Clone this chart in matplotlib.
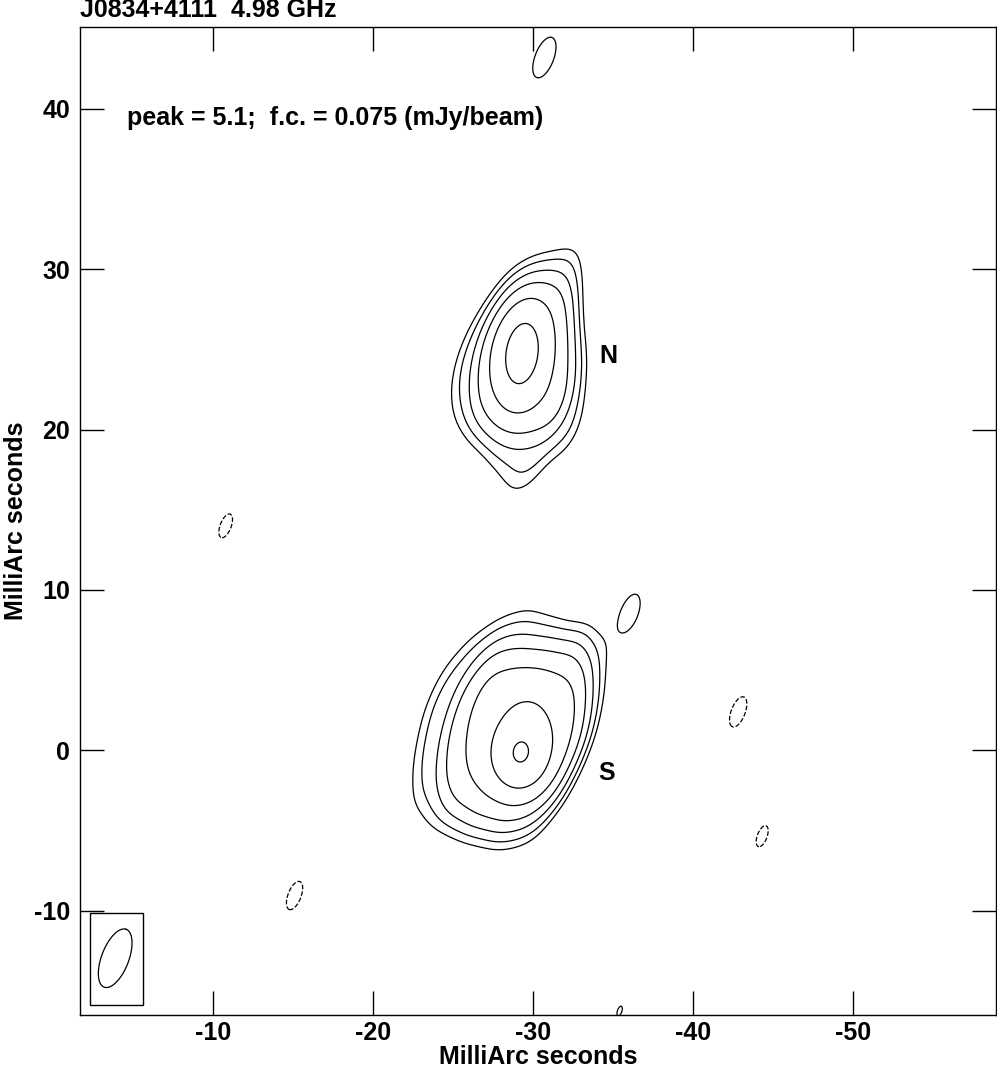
import numpy as np
import matplotlib
matplotlib.use("Agg")
import matplotlib.pyplot as plt
import matplotlib.patches as patches
from matplotlib.path import Path

plt.rcParams['font.family'] = ['Liberation Sans', 'DejaVu Sans']
plt.rcParams['font.weight'] = 'bold'
plt.rcParams['axes.unicode_minus'] = False

fc = 0.075
level_mult = [-1, 1, 2, 4, 8, 16, 32, 64]

# extended emission regions (mas): outer ~1 x f.c., inner ~8 x f.c., S mid ~16 x f.c.
n_outer_x = [-32.45, -32.76, -32.76, -32.66, -32.66, -32.87, -33.07, -33.07, -32.93, -32.76, -32.14, -31.31, -30.69, -30.27,
             -29.65, -28.92, -28.50, -27.78, -26.95, -26.12, -25.39, -25.08, -25.04, -25.39, -25.91, -26.53, -27.36, -28.61,
             -29.85, -31.10, -31.72]
n_outer_y = [31.0, 30.53, 29.38, 27.31, 25.85, 25.23, 24.40, 22.74, 21.08, 19.83, 19.0, 18.58, 18.17, 17.34,
             16.71, 16.40, 16.92, 17.96, 19.21, 19.83, 20.66, 21.70, 23.15, 24.61, 25.85, 26.89, 27.93, 29.38,
             30.21, 30.63, 30.84]
n_inner_x = [-30.69, -31.62, -31.97, -32.10, -32.18, -32.10, -31.83, -31.21, -30.27, -29.23, -28.19, -27.26, -26.70,
             -26.59, -26.84, -27.47, -28.40, -29.54]
n_inner_y = [28.97, 28.76, 27.93, 26.27, 24.40, 22.53, 21.08, 20.35, 20.08, 19.93, 20.14, 20.76, 21.80,
             23.36, 25.02, 26.58, 27.83, 28.66]
s_outer_x = [-29.53, -32.0, -33.5, -34.2, -34.28, -33.7, -32.45, -31.6, -30.15, -28.3, -25.6, -23.7, -22.6, -22.7,
             -23.3, -24.35, -26.0, -27.9]
s_outer_y = [8.41, 7.48, 7.37, 6.23, 3.74, 1.25, -1.25, -3.1, -5.2, -5.6, -5.0, -4.3, -2.9, -0.4,
             2.5, 4.78, 6.65, 7.9]
s_inner_x = [-28.5, -31.0, -32.6, -33.1, -33.2, -32.9, -32.0, -31.0, -29.6, -28.2, -26.5, -25.0, -24.5, -24.7,
             -25.3, -26.3, -27.4]
s_inner_y = [6.2, 6.0, 5.8, 4.8, 3.0, 0.8, -1.2, -2.8, -4.0, -4.3, -3.9, -3.0, -1.5, 0.8,
             3.0, 4.8, 5.8]
s_mid_x = [-27.2, -30.9, -32.4, -32.75, -32.65, -32.0, -31.2, -30.35, -28.8, -27.2, -26.2, -25.8, -26.1, -26.9]
s_mid_y = [4.9, 4.8, 4.5, 3.7, 2.3, 0.6, -1.0, -2.5, -3.3, -2.8, -1.8, -0.3, 2.2, 4.2]
region_level = [0.2, 0.8, 0.2, 0.8, 0.4]

# compact components: x, y (mas), peak (mJy/beam), FWHM maj/min (mas), tilt (deg)
comp_x   = [-29.3, -29.15, -29.7, -30.7, -36.0, -10.8, -42.8, -44.3, -15.1, -35.4]
comp_y   = [24.75, -0.35,  1.6,   43.2,   8.55, 14.0,   2.4,  -5.35, -9.05, -16.25]
comp_amp = [2.3,   3.0,    1.2,   0.104,  0.10, -0.084, -0.090, -0.082, -0.088, 0.0765]
comp_maj = [4.5,   3.2,    4.4,   3.9,    3.9,   3.9,   3.9,   3.9,   3.9,   3.9]
comp_min = [2.35,  2.6,    3.4,   1.7,    1.7,   1.7,   1.7,   1.7,   1.7,   1.7]
comp_pa  = [8.0,   5.0,    0.0,   21.0,   21.0,  21.0,  21.0,  21.0,  21.0,  21.0]

beam_x, beam_y = -3.9, -12.96
beam_maj, beam_min, beam_pa = 3.86, 1.7, 21.0

xticks = [-10, -20, -30, -40, -50]
yticks = [-10, 0, 10, 20, 30, 40]


def gauss(u, v, fmaj, fmin, pa):
    p = np.radians(pa)
    a = -u*np.sin(p) + v*np.cos(p)
    b = u*np.cos(p) + v*np.sin(p)
    sa = fmaj/2.3548
    sb = fmin/2.3548
    return np.exp(-0.5*(a**2/sa**2 + b**2/sb**2))


def conv_same(img, ker):
    s0 = img.shape[0] + ker.shape[0] - 1
    s1 = img.shape[1] + ker.shape[1] - 1
    full = np.fft.irfft2(np.fft.rfft2(img, (s0, s1))*np.fft.rfft2(ker, (s0, s1)), (s0, s1))
    c0 = ker.shape[0]//2
    c1 = ker.shape[1]//2
    return full[c0:c0+img.shape[0], c1:c1+img.shape[1]]


step = 0.1
gx = np.arange(-1.7, -58.95, -step)
gy = np.arange(-16.5, 45.15, step)
X, Y = np.meshgrid(gx, gy)
pts = np.column_stack([X.ravel(), Y.ravel()])

# smoothed extended emission
ext = np.zeros_like(X)
regions = [(n_outer_x, n_outer_y), (n_inner_x, n_inner_y), (s_outer_x, s_outer_y), (s_inner_x, s_inner_y),
           (s_mid_x, s_mid_y)]
for (rx, ry), lev in zip(regions, region_level):
    mask = Path(np.column_stack([rx, ry])).contains_points(pts).reshape(X.shape)
    ext += lev*mask
off = np.arange(-50, 51)
kv, ku = np.meshgrid(off*step, -off*step, indexing='ij')
ker = gauss(ku, kv, 2.6, 1.1, 21.0)
ker /= ker.sum()
Z = conv_same(ext, ker)

for x0, y0, a0, fmaj, fmin, pa in zip(comp_x, comp_y, comp_amp, comp_maj, comp_min, comp_pa):
    Z += a0*gauss(X - x0, Y - y0, fmaj, fmin, pa)

fig = plt.figure(figsize=(9.97, 10.69), dpi=100)
ax = fig.add_axes([0.0802, 0.0505, 0.9188, 0.9242])

levels = [fc*m for m in level_mult]
ax.contour(X, Y, Z, levels=levels, colors='black', linewidths=0.9)

# restoring beam
t = np.linspace(0, 2*np.pi, 200)
p = np.radians(beam_pa)
ex = beam_x + beam_maj/2*np.cos(t)*(-np.sin(p)) + beam_min/2*np.sin(t)*np.cos(p)
ey = beam_y + beam_maj/2*np.cos(t)*np.cos(p) + beam_min/2*np.sin(t)*np.sin(p)
ax.plot(ex, ey, color='black', lw=0.9)
ax.add_patch(patches.Rectangle((-5.64, -15.89), 3.3, 5.73, fill=False, edgecolor='black', linewidth=1.0))

ax.set_xlim(-1.7, -58.9)
ax.set_ylim(-16.5, 45.1)
ax.set_xticks(xticks)
ax.set_yticks(yticks)
ax.tick_params(direction='in', length=17, width=1, top=True, right=True, labelsize=18, pad=7)
ax.tick_params(axis='x', pad=4.5)
for s in ax.spines.values():
    s.set_linewidth(1)

ax.text(-4.64, 39.4, 'peak = 5.1;  f.c. = 0.075 (mJy/beam)', fontsize=18, fontweight='bold', ha='left', va='center')
ax.text(-34.67, 24.6, 'N', fontsize=18, fontweight='bold', ha='center', va='center')
ax.text(-34.6, -1.43, 'S', fontsize=18, fontweight='bold', ha='center', va='center')

ax.set_xlabel('MilliArc seconds', fontsize=18, fontweight='bold', labelpad=0)
ax.set_ylabel('MilliArc seconds', fontsize=18, fontweight='bold', labelpad=4)
fig.text(0.0802, 0.984, 'J0834+4111  4.98 GHz', fontsize=18, fontweight='bold', ha='left', va='baseline')

fig.savefig('out.png', dpi=100)
